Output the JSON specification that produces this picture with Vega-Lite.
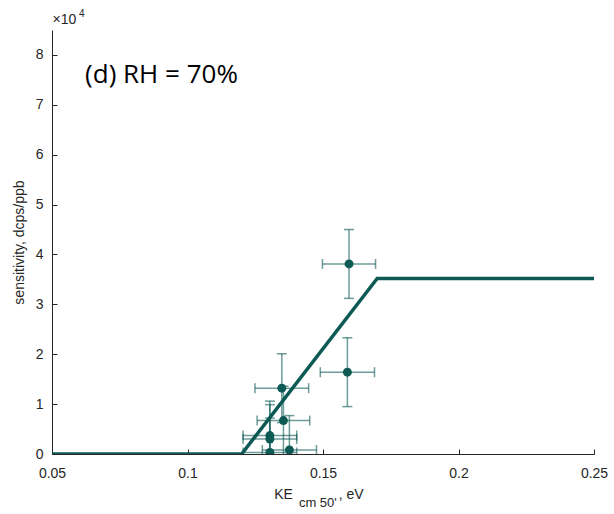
{
  "$schema": "https://vega.github.io/schema/vega-lite/v6.json",
  "width": 542,
  "height": 424,
  "padding": {"left": 52, "top": 30, "right": 20, "bottom": 60},
  "autosize": {"type": "none"},
  "background": "white",
  "config": {
    "view": {"stroke": null},
    "font": "Liberation Sans",
    "axis": {
      "grid": false,
      "domainColor": "#262626",
      "tickColor": "#262626",
      "labelColor": "#262626",
      "titleColor": "#262626",
      "labelFont": "Liberation Sans",
      "titleFont": "Liberation Sans",
      "labelFontSize": 14,
      "titleFontSize": 14,
      "titleFontWeight": "normal",
      "tickSize": -5,
      "domainWidth": 1
    }
  },
  "datasets": {
    "pts": [
      {"x": 0.1596, "y": 3.81, "xe": 0.0098, "ye": 0.69},
      {"x": 0.1590, "y": 1.64, "xe": 0.0100, "ye": 0.69},
      {"x": 0.1348, "y": 1.32, "xe": 0.0099, "ye": 0.69},
      {"x": 0.1354, "y": 0.67, "xe": 0.0097, "ye": 0.69},
      {"x": 0.1304, "y": 0.37, "xe": 0.0099, "ye": 0.69},
      {"x": 0.1304, "y": 0.30, "xe": 0.0099, "ye": 0.69},
      {"x": 0.1304, "y": 0.03, "xe": 0.0099, "ye": 0.69},
      {"x": 0.1376, "y": 0.08, "xe": 0.0100, "ye": 0.69}
    ],
    "fit": [
      {"x": 0.05, "y": 0},
      {"x": 0.12, "y": 0},
      {"x": 0.17, "y": 3.52},
      {"x": 0.25, "y": 3.52}
    ]
  },
  "layer": [
    {
      "data": {"name": "fit"},
      "mark": {"type": "line", "color": "#0d5a55", "strokeWidth": 3.5, "clip": true},
      "encoding": {
        "x": {"field": "x", "type": "quantitative",
          "scale": {"domain": [0.05, 0.25], "nice": false, "zero": false},
          "axis": {"values": [0.05, 0.1, 0.15, 0.2, 0.25], "format": ".2~f", "title": null, "labelPadding": 17, "labelFlush": false}},
        "y": {"field": "y", "type": "quantitative",
          "scale": {"domain": [0, 8.5], "nice": false},
          "axis": {"values": [0, 1, 2, 3, 4, 5, 6, 7, 8], "format": "d", "title": "sensitivity, dcps/ppb", "labelPadding": 14, "titlePadding": 9}}
      }
    },
    {
      "data": {"name": "pts"},
      "transform": [
        {"calculate": "datum.x - datum.xe", "as": "xlo"},
        {"calculate": "datum.x + datum.xe", "as": "xhi"},
        {"calculate": "datum.y - datum.ye", "as": "ylo"},
        {"calculate": "datum.y + datum.ye", "as": "yhi"}
      ],
      "layer": [
        {
          "mark": {"type": "rule", "color": "#0d5a55", "opacity": 0.6, "strokeWidth": 1.5, "clip": true},
          "encoding": {
            "x": {"field": "xlo", "type": "quantitative"},
            "x2": {"field": "xhi"},
            "y": {"field": "y", "type": "quantitative"}
          }
        },
        {
          "mark": {"type": "rule", "color": "#0d5a55", "opacity": 0.6, "strokeWidth": 1.5, "clip": true},
          "encoding": {
            "x": {"field": "x", "type": "quantitative"},
            "y": {"field": "ylo", "type": "quantitative"},
            "y2": {"field": "yhi"}
          }
        },
        {
          "mark": {"type": "tick", "orient": "vertical", "color": "#0d5a55", "opacity": 0.6, "thickness": 1.5, "size": 10, "clip": true},
          "encoding": {
            "x": {"field": "xlo", "type": "quantitative"},
            "y": {"field": "y", "type": "quantitative"}
          }
        },
        {
          "mark": {"type": "tick", "orient": "vertical", "color": "#0d5a55", "opacity": 0.6, "thickness": 1.5, "size": 10, "clip": true},
          "encoding": {
            "x": {"field": "xhi", "type": "quantitative"},
            "y": {"field": "y", "type": "quantitative"}
          }
        },
        {
          "mark": {"type": "tick", "orient": "horizontal", "color": "#0d5a55", "opacity": 0.6, "thickness": 1.5, "size": 10, "clip": true},
          "encoding": {
            "x": {"field": "x", "type": "quantitative"},
            "y": {"field": "ylo", "type": "quantitative"}
          }
        },
        {
          "mark": {"type": "tick", "orient": "horizontal", "color": "#0d5a55", "opacity": 0.6, "thickness": 1.5, "size": 10, "clip": true},
          "encoding": {
            "x": {"field": "x", "type": "quantitative"},
            "y": {"field": "yhi", "type": "quantitative"}
          }
        },
        {
          "mark": {"type": "point", "filled": true, "color": "#0d5a55", "opacity": 1, "size": 80, "clip": true},
          "encoding": {
            "x": {"field": "x", "type": "quantitative"},
            "y": {"field": "y", "type": "quantitative"}
          }
        }
      ]
    },
    {
      "data": {"values": [{"x": 0.0622, "y": 7.6, "t": "(d) RH = 70%"}]},
      "mark": {"type": "text", "baseline": "middle", "align": "left", "clip": false, "font": "Open Sans", "fontSize": 26, "color": "black"},
      "encoding": {
        "x": {"field": "x", "type": "quantitative"},
        "y": {"field": "y", "type": "quantitative"},
        "text": {"field": "t"}
      }
    },
    {
      "data": {"values": [{"x": 0.0502, "y": 8.7, "t": "×10"}]},
      "mark": {"type": "text", "baseline": "middle", "align": "left", "clip": false, "font": "Liberation Sans", "fontSize": 14, "color": "#262626"},
      "encoding": {
        "x": {"field": "x", "type": "quantitative"},
        "y": {"field": "y", "type": "quantitative"},
        "text": {"field": "t"}
      }
    },
    {
      "data": {"values": [{"x": 0.0600, "y": 8.7, "t": "4"}]},
      "mark": {"type": "text", "baseline": "middle", "align": "left", "clip": false, "font": "Liberation Sans", "fontSize": 10, "dy": -6, "color": "#262626"},
      "encoding": {
        "x": {"field": "x", "type": "quantitative"},
        "y": {"field": "y", "type": "quantitative"},
        "text": {"field": "t"}
      }
    },
    {
      "data": {"values": [{"x": 0.1389, "y": -0.82, "t": "KE"}]},
      "mark": {"type": "text", "baseline": "middle", "align": "right", "clip": false, "font": "Liberation Sans", "fontSize": 14, "color": "#262626"},
      "encoding": {
        "x": {"field": "x", "type": "quantitative"},
        "y": {"field": "y", "type": "quantitative"},
        "text": {"field": "t"}
      }
    },
    {
      "data": {"values": [{"x": 0.1411, "y": -0.82, "t": "cm 50'"}]},
      "mark": {"type": "text", "baseline": "middle", "align": "left", "clip": false, "font": "Liberation Sans", "fontSize": 13, "dy": 8, "color": "#262626"},
      "encoding": {
        "x": {"field": "x", "type": "quantitative"},
        "y": {"field": "y", "type": "quantitative"},
        "text": {"field": "t"}
      }
    },
    {
      "data": {"values": [{"x": 0.1558, "y": -0.82, "t": ", eV"}]},
      "mark": {"type": "text", "baseline": "middle", "align": "left", "clip": false, "font": "Liberation Sans", "fontSize": 14, "color": "#262626"},
      "encoding": {
        "x": {"field": "x", "type": "quantitative"},
        "y": {"field": "y", "type": "quantitative"},
        "text": {"field": "t"}
      }
    }
  ]
}
